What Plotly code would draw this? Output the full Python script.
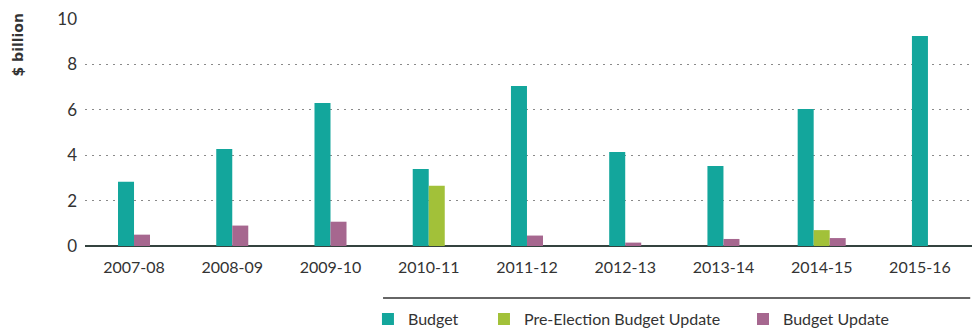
import plotly.graph_objects as go

categories = ["2007-08", "2008-09", "2009-10", "2010-11", "2011-12",
              "2012-13", "2013-14", "2014-15", "2015-16"]
budget = [2.83, 4.27, 6.3, 3.39, 7.05, 4.14, 3.52, 6.03, 9.25]
pre_election = [None, None, None, 2.65, None, None, None, 0.70, None]
budget_update = [0.5, 0.9, 1.07, None, 0.46, 0.15, 0.31, 0.35, None]

series = [
    ("Budget", budget, "#13A69C", "legend"),
    ("Pre-Election Budget Update", pre_election, "#A2C139", "legend2"),
    ("Budget Update", budget_update, "#A6678F", "legend3"),
]

BAR_W = 0.163
FONT = "Lato, Roboto, sans-serif"
TXT = "#333333"

# compute centred offsets based on which series are present per category
offsets = {name: [] for name, *_ in series}
for i in range(len(categories)):
    present = [name for name, vals, *_ in series if vals[i] is not None]
    n = len(present)
    for name, vals, *_ in series:
        if vals[i] is None:
            offsets[name].append(0)
        else:
            k = present.index(name)
            offsets[name].append(-n * BAR_W / 2 + k * BAR_W)

fig = go.Figure()
for name, vals, color, lg in series:
    fig.add_trace(go.Bar(
        x=categories, y=vals, name=name, marker_color=color,
        marker_line_width=0, width=BAR_W, offset=offsets[name],
        legend=lg,
    ))

leg_common = dict(orientation="h", yanchor="middle", y=-0.322, xanchor="left",
                  font=dict(family=FONT, size=16, color=TXT),
                  bgcolor="rgba(0,0,0,0)", borderwidth=0)

fig.update_layout(
    width=975, height=333,
    margin=dict(l=85, r=3, t=19, b=87, autoexpand=False),
    paper_bgcolor="white", plot_bgcolor="white",
    barmode="overlay",
    font=dict(family=FONT, color=TXT),
    showlegend=True,
    legend=dict(x=0.319, **leg_common),
    legend2=dict(x=0.4498, **leg_common),
    legend3=dict(x=0.7418, **leg_common),
    xaxis=dict(
        type="category", range=[-0.499, 8.53],
        showgrid=False, showline=False, ticks="",
        tickfont=dict(family=FONT, size=16, color=TXT),
        ticklabelstandoff=10, automargin=False,
    ),
    yaxis=dict(
        range=[0, 10], dtick=2, tick0=0,
        showgrid=True, gridcolor="#8a8a8a", gridwidth=1.3, griddash="2px,5px",
        zeroline=True, zerolinecolor="#34433f", zerolinewidth=2,
        showline=False, ticks="",
        tickfont=dict(family=FONT, size=17, color=TXT),
        ticklabelstandoff=7, automargin=False,
    ),
    annotations=[dict(
        text="<b>$ billion</b>", textangle=-90, showarrow=False,
        xref="paper", yref="paper", x=-0.0755, y=1.031,
        xanchor="center", yanchor="top",
        font=dict(family="DejaVu Sans, sans-serif", size=14, color=TXT),
    )],
    shapes=[dict(
        type="line", xref="paper", yref="paper",
        x0=0.336, x1=0.998, y0=-0.229, y1=-0.229,
        line=dict(color="#333333", width=1.5),
    )],
)

fig.write_html("out.html")
